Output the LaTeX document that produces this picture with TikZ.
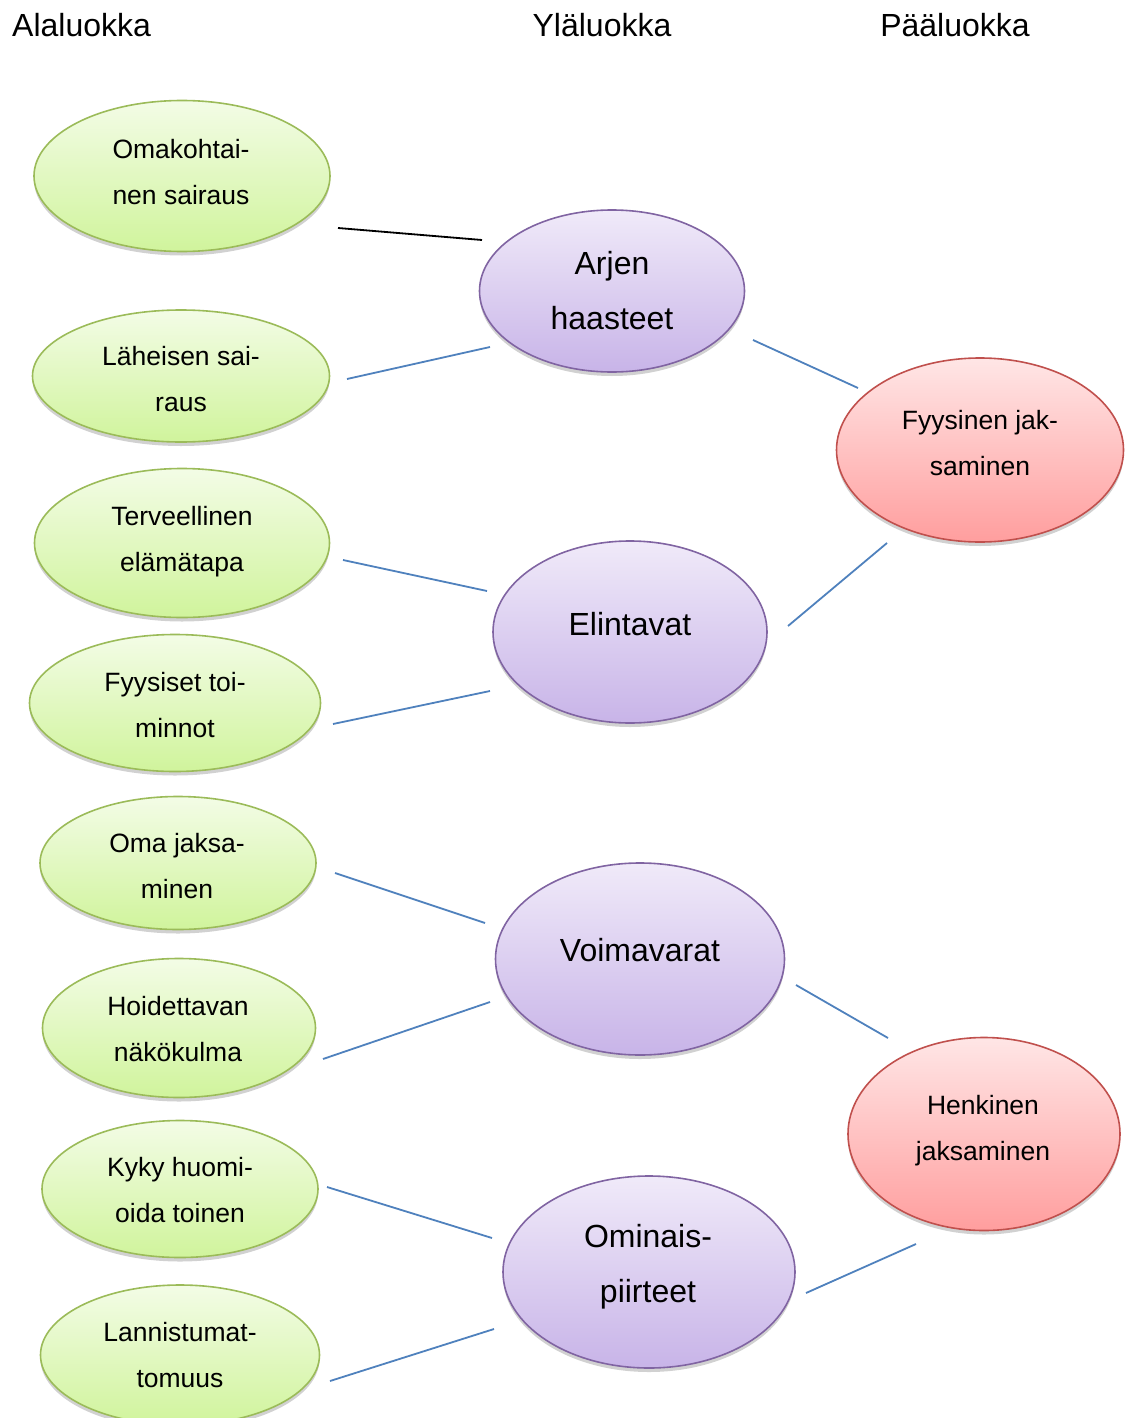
\documentclass[tikz,border=0pt]{standalone}
\usepackage{fontspec}
\setmainfont{Liberation Sans}
\usetikzlibrary{shapes.geometric,shadows}
\definecolor{gtop}{RGB}{243,252,230}
\definecolor{gbot}{RGB}{208,244,156}
\definecolor{gborder}{RGB}{155,187,89}
\definecolor{ptop}{RGB}{240,234,249}
\definecolor{pbot}{RGB}{200,180,232}
\definecolor{pborder}{RGB}{128,100,162}
\definecolor{rtop}{RGB}{255,230,230}
\definecolor{rbot}{RGB}{255,158,158}
\definecolor{rborder}{RGB}{192,80,77}
\definecolor{lineblue}{RGB}{79,129,189}
\begin{document}
\begin{tikzpicture}[x=1pt,y=-1pt,
  base/.style={ellipse,inner sep=0pt,line width=1.6pt,
    drop shadow={shadow xshift=0pt,shadow yshift=-4pt,opacity=0.18,fill=black}},
  gell/.style={base,draw=gborder,top color=gtop,bottom color=gbot},
  pell/.style={base,draw=pborder,top color=ptop,bottom color=pbot},
  rell/.style={base,draw=rborder,top color=rtop,bottom color=rbot},
  gtxt/.style={align=center,font=\fontsize{26.5}{46}\selectfont,inner sep=0pt},
  ptxt/.style={align=center,font=\fontsize{32}{55}\selectfont,inner sep=0pt},
  head/.style={font=\fontsize{32}{38}\selectfont,inner sep=0pt},
  conn/.style={draw=lineblue,line width=1.8pt},
  blackconn/.style={draw=black,line width=1.8pt}]
\path[use as bounding box,clip] (0,0) rectangle (1128,1418);

% headers
\node[head,anchor=west] (h1) at (12,25) {Alaluokka};
\node[head] (h2) at (602,25) {Yläluokka};
\node[head] (h3) at (955,25) {Pääluokka};

% green ellipses
\node[gell,minimum width=296,minimum height=151] (g1) at (182,176) {};
\node[gell,minimum width=297,minimum height=132] (g2) at (181,376) {};
\node[gell,minimum width=295,minimum height=149] (g3) at (182,543) {};
\node[gell,minimum width=291,minimum height=137] (g4) at (175,703) {};
\node[gell,minimum width=276,minimum height=133] (g5) at (178,863) {};
\node[gell,minimum width=273,minimum height=139] (g6) at (179,1028) {};
\node[gell,minimum width=276,minimum height=137] (g7) at (180,1189) {};
\node[gell,minimum width=279,minimum height=140] (g8) at (180,1355) {};

\node[gtxt] (g1t) at (181,172) {Omakohtai-\\nen sairaus};
\node[gtxt] (g2t) at (181,379) {Läheisen sai-\\raus};
\node[gtxt] (g3t) at (182,542) {Terveellinen\\elämätapa};
\node[gtxt] (g4t) at (175,705) {Fyysiset toi-\\minnot};
\node[gtxt] (g5t) at (177,866) {Oma jaksa-\\minen};
\node[gtxt] (g6t) at (178,1029) {Hoidettavan\\näkökulma};
\node[gtxt] (g7t) at (180,1190) {Kyky huomi-\\oida toinen};
\node[gtxt] (g8t) at (180,1355) {Lannistumat-\\tomuus};

% purple ellipses
\node[pell,minimum width=265,minimum height=162] (p1) at (612,291) {};
\node[pell,minimum width=274,minimum height=182] (p2) at (630,632) {};
\node[pell,minimum width=289,minimum height=192] (p3) at (640,959) {};
\node[pell,minimum width=292,minimum height=192] (p4) at (649,1272) {};

\node[ptxt] (p1t) at (612,290.5) {Arjen\\haasteet};
\node[ptxt] (p2t) at (630,624) {Elintavat};
\node[ptxt] (p3t) at (640,950) {Voimavarat};
\node[ptxt] (p4t) at (648,1267) {Ominais-\\piirteet};

% red ellipses
\node[rell,minimum width=287,minimum height=184] (r1) at (980,450) {};
\node[rell,minimum width=272,minimum height=193] (r2) at (984,1134) {};

\node[gtxt] (r1t) at (980,443) {Fyysinen jak-\\saminen};
\node[gtxt] (r2t) at (983,1131) {Henkinen\\jaksaminen};

% connector ends
\coordinate (a1) at (338,228);  \coordinate (b1) at (482,240);
\coordinate (a2) at (347,379);  \coordinate (b2) at (490,347);
\coordinate (a3) at (343,560);  \coordinate (b3) at (487,591);
\coordinate (a4) at (333,724);  \coordinate (b4) at (490,691);
\coordinate (a5) at (335,873);  \coordinate (b5) at (485,923);
\coordinate (a6) at (323,1059); \coordinate (b6) at (490,1002);
\coordinate (a7) at (327,1187); \coordinate (b7) at (492,1238);
\coordinate (a8) at (330,1381); \coordinate (b8) at (494,1329);
\coordinate (a9) at (753,340);  \coordinate (b9) at (858,388);
\coordinate (a10) at (788,626); \coordinate (b10) at (887,543);
\coordinate (a11) at (796,985); \coordinate (b11) at (888,1038);
\coordinate (a12) at (806,1293);\coordinate (b12) at (916,1244);

\draw[blackconn] (a1) -- (b1);
\draw[conn] (a2) -- (b2);
\draw[conn] (a3) -- (b3);
\draw[conn] (a4) -- (b4);
\draw[conn] (a5) -- (b5);
\draw[conn] (a6) -- (b6);
\draw[conn] (a7) -- (b7);
\draw[conn] (a8) -- (b8);
\draw[conn] (a9) -- (b9);
\draw[conn] (a10) -- (b10);
\draw[conn] (a11) -- (b11);
\draw[conn] (a12) -- (b12);
\end{tikzpicture}
\end{document}
